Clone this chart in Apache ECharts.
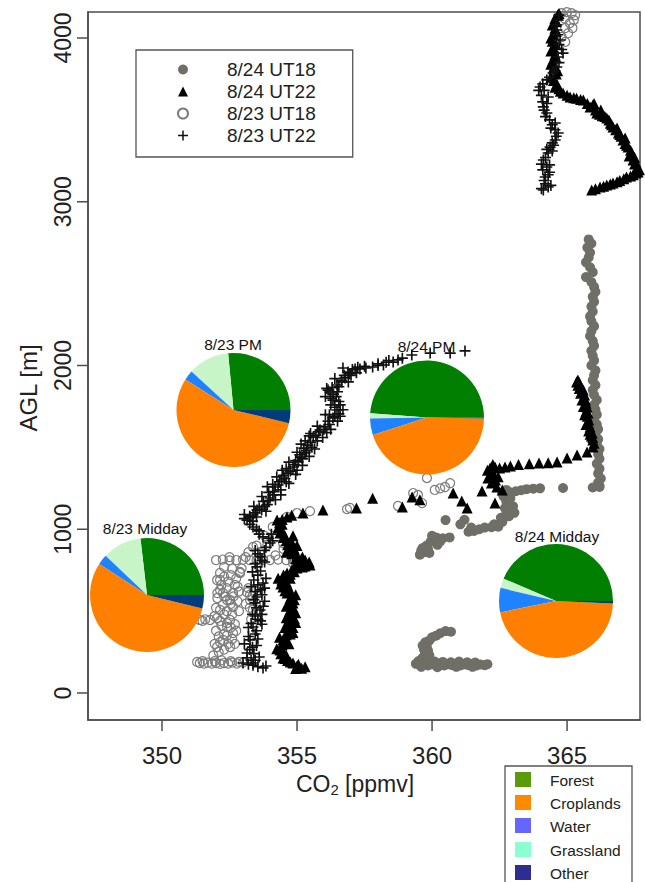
<!DOCTYPE html>
<html>
<head>
<meta charset="utf-8">
<script src="https://cdn.jsdelivr.net/npm/echarts@6/dist/echarts.min.js"></script>
<style>
html,body{margin:0;padding:0;background:#fff;}
#chart{width:645px;height:882px;}
</style>
</head>
<body>
<div id="chart"></div>
<script>
// ---------------- DATA ----------------
const xTicks = [350, 355, 360, 365];
const yTicks = [0, 1000, 2000, 3000, 4000];
const seriesNames = ['8/24 UT18', '8/24 UT22', '8/23 UT18', '8/23 UT22'];

// 8/24 UT18 (filled grey circles) [CO2 ppmv, AGL m]
const aug24ut18 = [
[359.40,178],[359.55,170],[359.70,182],[359.85,168],[360.00,176],[360.15,170],[360.30,180],[360.45,168],[360.60,175],[360.75,170],[360.90,178],[361.05,168],[361.20,175],[361.35,170],[361.50,178],[361.65,168],[361.80,174],[361.95,170],[362.05,176],
[359.50,195],[359.75,200],[360.10,192],[360.40,190],[360.70,188],[361.00,192],[361.30,188],[361.60,186],[359.60,160],[360.20,158],[360.90,160],[361.50,160],
[359.65,215],[359.90,230],[359.75,240],[359.85,260],[359.70,265],[359.80,285],[359.65,290],[359.75,310],[359.90,320],[360.00,340],[360.15,350],[360.30,365],[360.50,378],[360.70,374],
[359.55,845],[359.70,860],[359.90,855],[359.65,885],[359.80,900],[359.95,925],[360.05,940],[360.20,905],[360.15,950],[360.40,945],[360.65,950],[360.50,1056],[361.20,1058],[361.35,985],[361.55,990],[361.75,1000],[361.95,1010],[362.20,1012],[362.45,1015],[362.60,1045],[362.70,1075],[362.75,1095],[362.95,1118],[363.05,1100],[362.85,1145],[362.75,1170],[362.65,1200],[362.60,1220],[362.85,1228],[363.10,1232],[363.50,1245],[364.00,1250],[364.85,1252],[365.95,1255],[366.20,1258],
[359.60,870],[359.85,880],[360.30,925],[360.00,960],[361.05,1030],[361.45,1010],[362.30,1030],[362.55,1070],[362.85,1080],[363.00,1140],[362.70,1130],[362.90,1190],[362.75,1240],[363.30,1238],[363.75,1248],
[365.80,2770],[365.90,2745],[365.75,2720],[365.85,2690],[365.80,2660],[365.70,2630],[365.85,2600],[365.95,2570],[365.70,2540],[365.90,2510],[366.00,2480],[366.05,2450],[365.95,2420],[366.00,2390],[365.90,2360],[365.95,2330],[365.85,2300],[365.90,2270],[366.00,2240],[365.90,2210],[365.85,2180],[365.95,2150],[366.00,2120],[365.90,2090],[365.95,2060],[366.00,2030],[365.90,2000],[366.05,1970],[366.00,1940],[365.95,1910],[366.05,1880],[365.95,1850],[366.00,1820],[366.10,1790],[366.00,1760],[366.05,1730],[366.10,1700],[366.00,1670],[366.10,1640],[366.15,1610],[366.05,1580],[366.15,1550],[366.10,1520],[366.20,1490],[366.15,1460],[366.20,1430],[366.10,1400],[366.20,1370],[366.15,1340],[366.25,1310],[366.15,1285],[366.20,1265]
];

// 8/24 UT22 (black triangles)
const aug24ut22 = [
[355.17,151],[355.00,165],[354.85,183],[354.65,198],[354.48,214],[354.40,240],[354.37,263],[354.45,295],[354.48,324],[354.60,355],[354.67,385],[354.75,415],[354.80,446],[354.78,475],[354.74,507],[354.85,550],[354.75,580],[354.63,611],[354.48,647],[354.44,690],[354.55,712],[354.63,733],[354.80,750],[355.00,763],[355.48,782],[355.30,812],[355.10,800],[355.00,840],[354.85,870],[354.74,892],[354.60,930],[354.85,960],[354.37,977],[354.30,1010],[354.26,1056],[354.63,1075],[355.22,1099],[355.96,1118],
[355.30,160],[354.95,150],[354.60,230],[354.25,270],[354.70,300],[354.35,340],[354.85,370],[354.55,400],[354.95,430],[354.60,460],[354.95,490],[354.60,530],[354.95,600],[354.65,660],[354.30,700],[354.75,700],[355.20,770],[354.95,790],[355.20,830],[354.60,860],[355.00,900],[354.50,950],[354.45,1030],
[355.05,175],[354.75,190],[354.55,210],[354.50,250],[354.40,280],[354.60,310],[354.55,340],[354.75,360],[354.70,395],[354.85,400],[354.65,430],[354.90,455],[354.70,490],[354.85,520],[354.70,540],[354.90,570],[354.80,595],[354.55,625],[354.70,640],[354.40,665],[354.60,680],[354.50,720],[354.75,725],[354.90,740],[355.30,775],[355.45,800],[355.15,815],[354.95,820],[354.80,850],[354.90,880],[354.65,905],[354.80,920],[354.55,960],[354.45,990],[354.35,1040],[354.45,1060],[354.80,1085],
[357.20,1130],[357.80,1190],[358.90,1136],[359.26,1197],[359.55,1180],[360.78,1221],[361.10,1172],[361.30,1130],[361.85,1234],[362.33,1160],
[362.60,1240],[362.40,1258],[362.20,1282],[362.07,1313],[362.26,1343],[362.15,1374],[362.33,1380],[362.50,1374],[362.90,1386],[363.96,1404],
[362.35,1300],[362.15,1330],[362.45,1320],[362.05,1360],[362.25,1395],[362.70,1380],[363.20,1395],[363.60,1400],
[364.30,1406],[364.63,1411],[365.00,1435],[365.37,1453],[365.74,1472],[365.96,1502],
[366.00,1525],[365.95,1545],[365.90,1570],[365.93,1588],[365.85,1610],[365.85,1625],[365.80,1645],[365.80,1667],[365.75,1690],[365.78,1710],[365.74,1747],[365.70,1770],[365.68,1789],[365.65,1820],[365.60,1850],[365.50,1875],[365.45,1895],[365.40,1911],
[365.95,1560],[365.85,1580],[365.80,1600],[365.70,1640],[365.65,1700],[365.70,1720],[365.60,1750],[365.55,1790],[365.50,1830],[365.45,1860],[365.40,1880],[365.35,1900],
[365.91,3072],[366.22,3090],[366.47,3102],[366.70,3114],[366.95,3130],[367.20,3151],[367.45,3165],[367.63,3182],[367.60,3212],[367.44,3255],[367.40,3298],[367.26,3334],[367.07,3377],[366.90,3420],[366.70,3457],[366.47,3511],[366.30,3525],[366.10,3542],[365.85,3579],[365.60,3621],[365.35,3632],[365.11,3640],[364.85,3664],[364.70,3690],[364.55,3700],[364.50,3740],[364.60,3780],[364.50,3820],[364.45,3860],[364.55,3900],[364.50,3940],[364.45,3980],[364.50,4020],[364.55,4060],[364.60,4100],[364.65,4140],
[367.50,3230],[367.30,3280],[367.15,3355],[367.00,3400],[366.80,3440],[366.60,3480],[366.25,3560],[366.00,3600],
[366.05,3080],[366.35,3095],[366.60,3108],[366.85,3122],[367.10,3140],[367.35,3158],[367.55,3175],[367.68,3195],[367.55,3240],[367.50,3270],[367.35,3315],[367.20,3345],[367.15,3390],[366.95,3410],[366.85,3450],[366.65,3470],[366.55,3500],[366.40,3520],[366.20,3535],[366.05,3560],[365.95,3590],[365.75,3600],[365.50,3625],[365.25,3635],[365.00,3650],[364.75,3675],[364.62,3720],[364.40,3760],[364.65,3800],[364.40,3840],[364.60,3880],[364.40,3920],[364.60,3960],[364.40,4000],[364.60,4040],[364.45,4080],[364.55,4120],[364.70,4150]
];

// 8/23 UT18 (open grey circles)
const aug23ut18 = [
[364.80,4152],[364.99,4158],[365.17,4152],[365.30,4140],[365.10,4091],[364.93,4061],[365.20,4061],[365.04,4030],[364.80,4006],[364.93,3976],[365.25,4110],[364.90,4120],
[351.40,183],[351.55,180],[351.70,185],[351.85,180],[352.00,183],[352.15,178],[352.30,183],[352.45,180],[352.60,185],[352.78,180],
[352.04,281],[352.26,324],[352.63,366],[352.41,427],[351.78,446],[352.52,446],[351.40,446],[351.60,450],[352.63,525],[352.41,568],[352.15,629],[352.63,611],[352.04,690],[352.15,733],[352.89,733],[352.15,507],[352.04,458],[352.41,403],[353.26,568],[353.37,507],[352.52,281],[352.26,611],[352.52,568],[352.15,690],[352.89,739],[353.26,600],[352.30,360],[352.00,380],[352.70,300],[353.30,450],[353.20,640],[352.80,650],
[351.30,190],[351.50,195],[351.95,195],[352.20,200],[352.55,195],[352.85,190],[353.00,185],[351.90,230],[352.10,250],[352.30,265],[351.95,300],[352.15,310],[352.45,300],[352.60,330],[352.10,345],[352.40,350],[352.75,380],[352.55,400],[352.20,410],[352.70,420],[352.15,440],[351.50,440],[351.95,470],[352.30,480],[352.60,480],[352.85,500],[352.40,500],[352.00,520],[352.25,540],[352.55,545],[352.80,560],[352.05,580],[352.30,590],[352.65,590],[352.85,620],[352.05,610],[352.40,640],[352.70,660],[352.20,660],[352.45,680],[352.75,700],[352.30,710],[352.55,720],[352.95,760],[352.60,760],[352.30,770],[353.10,545],[353.25,520],[353.35,590],[353.15,615],[353.40,625],
[352.00,812],[352.25,815],[352.50,810],[352.75,812],[353.00,815],[353.25,812],[353.50,810],[353.75,815],[354.00,812],[354.30,815],[354.60,812],[354.85,815],
[352.50,830],[353.10,830],[353.20,860],[353.60,860],[354.20,840],[354.50,880],[354.20,950],[353.80,960],
[353.37,892],[353.50,900],[353.90,904],[354.10,1014],[354.37,977],[354.48,916],[354.74,855],[354.85,794],[354.63,1075],[355.00,1099],[355.48,1111],[356.85,1123],[356.96,1130],[358.74,1142],[359.30,1221],[359.48,1209],[359.63,1160],[359.81,1313],[360.10,1240],[360.48,1258],[360.67,1282],[360.30,1250]
];

// 8/23 UT22 (black plus signs)
const aug23ut22 = [
[353.74,153],[353.37,170],[353.00,183],[353.37,183],[353.15,244],[353.35,280],[353.26,324],[353.45,360],[353.37,403],[353.55,450],[353.63,507],[353.45,550],[353.52,586],[353.65,630],[353.74,672],[353.55,720],[353.52,770],[353.63,831],[353.80,870],[354.00,916],[353.74,953],[353.37,1014],[353.15,1056],[353.52,1118],
[353.30,200],[353.60,220],[353.05,300],[353.55,330],[353.20,400],[353.70,420],[353.35,480],[353.80,560],[353.30,650],[353.85,700],[353.35,740],[353.80,800],[353.45,870],[354.05,970],[353.60,990],[353.25,1080],
[353.55,160],[353.20,175],[353.85,165],[353.45,200],[353.15,215],[353.40,240],[353.25,265],[353.50,290],[353.20,345],[353.50,380],[353.30,425],[353.65,440],[353.45,470],[353.70,480],[353.50,520],[353.75,530],[353.40,570],[353.70,600],[353.45,620],[353.55,660],[353.80,640],[353.40,690],[353.65,745],[353.45,790],[353.70,810],[353.55,850],[353.85,890],[354.10,930],[353.95,945],[353.60,970],[353.50,1000],[353.25,1030],[353.35,1050],[353.05,1065],
[353.37,1087],[353.69,1118],[354.00,1191],[354.19,1258],[354.43,1301],[354.67,1343],[354.85,1380],[355.04,1411],[355.30,1466],[355.40,1514],[355.60,1563],[355.85,1606],[356.04,1625],[356.33,1680],[356.48,1728],[356.33,1789],[356.22,1838],[356.48,1881],[356.78,1924],[356.89,1960],[357.15,1979],[357.33,1979],[357.80,1991],[358.20,2003],[358.56,2021],[358.74,2034],[359.25,2064],[359.93,2076],[360.67,2076],[361.22,2089],
[353.90,1150],[354.40,1240],[354.60,1290],[355.00,1360],[355.20,1430],[355.55,1500],[355.75,1540],[356.10,1590],[356.50,1660],[356.20,1700],[356.60,1760],[356.45,1810],[356.10,1860],[356.65,1900],[357.00,1940],[357.50,1995],[358.00,2000],[358.40,2030],
[353.25,1070],[353.45,1100],[353.60,1130],[353.80,1140],[353.75,1170],[353.95,1175],[354.10,1210],[353.95,1225],[354.15,1230],[354.30,1270],[354.10,1275],[354.35,1290],[354.55,1310],[354.50,1330],[354.75,1355],[354.60,1370],[354.90,1395],[354.95,1420],[355.15,1440],[355.10,1455],[355.35,1480],[355.25,1495],[355.50,1530],[355.30,1540],[355.70,1575],[355.50,1585],[355.80,1595],[356.00,1610],[356.20,1640],[356.15,1660],[356.40,1690],[356.55,1705],[356.40,1745],[356.55,1780],[356.25,1800],[356.35,1825],[356.15,1850],[356.30,1865],[356.55,1870],[356.65,1910],[356.75,1940],[356.95,1950],[357.05,1975],[357.25,1990],[357.55,1985],[358.00,2010],[358.30,2020],[358.90,2045],
[353.05,1090],[353.50,1075],[353.40,1140],[353.85,1110],[353.70,1200],[354.20,1180],[353.90,1260],[354.40,1210],[354.25,1320],[354.70,1280],[354.45,1360],[354.95,1335],[354.70,1410],[355.20,1390],[355.00,1470],[355.45,1445],[355.15,1520],[355.65,1490],[355.45,1570],[355.95,1560],[355.75,1630],[356.25,1610],[356.05,1700],[356.60,1690],[356.25,1760],[356.70,1730],[356.05,1810],[356.50,1840],[356.40,1920],[356.90,1900],[356.70,1985],[357.20,1955],
[364.12,3072],[364.30,3090],[364.19,3151],[364.25,3212],[364.12,3255],[364.30,3298],[364.37,3334],[364.56,3377],[364.67,3420],[364.56,3481],[364.25,3542],[364.12,3579],[364.30,3640],[364.00,3701],[364.25,3744],[364.48,3786],[364.62,3823],[364.67,3884],[364.85,3908],[364.74,3988],[364.62,4049],[364.67,4110],
[364.20,3110],[364.35,3180],[364.05,3230],[364.45,3360],[364.40,3450],[364.10,3610],[364.15,3680],
[364.05,3080],[364.40,3100],[364.15,3130],[364.30,3165],[364.10,3195],[364.35,3225],[364.20,3270],[364.45,3310],[364.25,3320],[364.50,3345],[364.60,3400],[364.55,3440],[364.45,3470],[364.35,3500],[364.20,3520],[364.15,3560],[364.25,3600],[364.05,3650],[363.95,3680],[364.10,3720],[364.35,3760],[364.55,3800],[364.70,3850],[364.80,3930],[364.70,3960],[364.65,4020],[364.60,4080],[364.70,4140]
];

// Land-cover pies (percent)
const landCovers = ['Forest', 'Croplands', 'Water', 'Grassland', 'Other'];
const pieTitles = ['8/23 Midday', '8/23 PM', '8/24 PM', '8/24 Midday'];
const pieForest    = [26.8, 26.5, 48.8, 43.6];
const pieGrassland = [11.1, 11.7, 1.5, 2.7];
const pieWater     = [2.9, 2.8, 4.7, 6.9];
const pieCroplands = [55.3, 55.3, 44.7, 46.1];
const pieOther     = [3.8, 3.7, 0.3, 0.7];

// ---------------- STYLE / LAYOUT ----------------
const FONT = 'Liberation Sans, Arial, Helvetica, sans-serif';
const pieColors = {Forest:'#007f00', Grassland:'#c8f5c8', Water:'#1f82ff', Croplands:'#ff8000', Other:'#003b7c'};
const legendColors = {Forest:'#5b9a08', Croplands:'#ff8a00', Water:'#6666ff', Grassland:'#8cffd2', Other:'#2d2d92'};
const pieCenters = [[147, 595], [233.5, 410], [427, 417.5], [556, 601]];
const pieTitlePos = [[145, 528], [233, 344], [426.5, 346], [557, 536]];
const PIE_R = 57;
const plusPath = 'path://M4.25,0H5.75V4.25H10V5.75H5.75V10H4.25V5.75H0V4.25H4.25Z';
const FRAME = '#4d4d4d';
const GRID = {left: 88, top: 12, width: 552, height: 708};
const X_MIN = 347.26, X_MAX = 367.70, Y_MIN = -164.9, Y_MAX = 4158.8;
const TICK_LEN = 11;

const chart = echarts.init(document.getElementById('chart'), null, {renderer: 'svg'});

const pieSeries = pieTitles.map((t, i) => ({
  type: 'pie', name: t, silent: true,
  center: pieCenters[i], radius: PIE_R,
  startAngle: 0, clockwise: false, z: 5,
  label: {show: false}, labelLine: {show: false},
  emphasis: {disabled: true},
  itemStyle: {borderWidth: 0},
  data: [
    {name: 'Forest', value: pieForest[i], itemStyle: {color: pieColors.Forest}},
    {name: 'Grassland', value: pieGrassland[i], itemStyle: {color: pieColors.Grassland}},
    {name: 'Water', value: pieWater[i], itemStyle: {color: pieColors.Water}},
    {name: 'Croplands', value: pieCroplands[i], itemStyle: {color: pieColors.Croplands}},
    {name: 'Other', value: pieOther[i], itemStyle: {color: pieColors.Other}}
  ]
}));

const graphics = [];
pieTitles.forEach((t, i) => {
  graphics.push({type: 'text', x: pieTitlePos[i][0], y: pieTitlePos[i][1], z: 10,
    style: {text: t, fill: '#111', font: '15.5px ' + FONT, textAlign: 'center', textVerticalAlign: 'middle'}});
});
// land cover legend
graphics.push({type: 'rect', shape: {x: 505, y: 766, width: 127, height: 140}, z: 10,
  style: {fill: '#fff', stroke: '#555', lineWidth: 1.3}});
const lcY = [779.5, 802.5, 825.5, 849.5, 872.5];
landCovers.forEach((n, i) => {
  graphics.push({type: 'rect', shape: {x: 515, y: lcY[i] - 7.5, width: 16, height: 15}, z: 11,
    style: {fill: legendColors[n]}});
  graphics.push({type: 'text', x: 550, y: lcY[i] + 1, z: 11,
    style: {text: n, fill: '#222', font: '15.5px ' + FONT, textAlign: 'left', textVerticalAlign: 'middle'}});
});
// outward (R-style) tick marks on the same linear scale as the axes
xTicks.forEach(v => {
  const px = GRID.left + (v - X_MIN) / (X_MAX - X_MIN) * GRID.width;
  graphics.push({type: 'rect', z: 20, shape: {x: px - 0.75, y: GRID.top + GRID.height, width: 1.5, height: TICK_LEN},
    style: {fill: FRAME}});
});
yTicks.forEach(v => {
  const py = GRID.top + (Y_MAX - v) / (Y_MAX - Y_MIN) * GRID.height;
  graphics.push({type: 'rect', z: 20, shape: {x: GRID.left - TICK_LEN, y: py - 0.75, width: TICK_LEN, height: 1.5},
    style: {fill: FRAME}});
});

const plainNum = v => String(v);

const option = {
  animation: false,
  backgroundColor: '#ffffff',
  textStyle: {fontFamily: FONT},
  grid: {left: GRID.left, top: GRID.top, width: GRID.width, height: GRID.height, show: true,
    borderColor: FRAME, borderWidth: 1.5, backgroundColor: 'transparent'},
  legend: {
    orient: 'vertical', left: 136, top: 50,
    padding: [10, 37, 12, 41], itemWidth: 10, itemHeight: 10, itemGap: 3,
    borderColor: '#555', borderWidth: 1.3, selectedMode: false,
    textStyle: {fontSize: 19, color: '#222', fontFamily: FONT, padding: [0, 0, 0, 34]},
    data: seriesNames
  },
  xAxis: {
    type: 'value', min: X_MIN, max: X_MAX,
    axisLine: {show: true, onZero: false, lineStyle: {color: FRAME, width: 1.5}}, splitLine: {show: false},
    axisTick: {show: false},
    axisLabel: {customValues: xTicks, fontSize: 24, color: '#222', margin: 23, fontFamily: FONT, formatter: plainNum},
    name: '{a|CO}{s|2}{a| [ppmv]}', nameLocation: 'middle', nameGap: 52,
    nameTextStyle: {padding: [0, 18, 0, 0], rich: {
      a: {fontSize: 23, color: '#222', fontFamily: FONT, lineHeight: 24, verticalAlign: 'top'},
      s: {fontSize: 15, color: '#222', fontFamily: FONT, lineHeight: 16, verticalAlign: 'top', padding: [10, 0, 0, 0]}
    }}
  },
  yAxis: {
    type: 'value', min: Y_MIN, max: Y_MAX,
    axisLine: {show: true, onZero: false, lineStyle: {color: FRAME, width: 1.5}}, splitLine: {show: false},
    axisTick: {show: false},
    axisLabel: {customValues: yTicks, fontSize: 23, color: '#222', margin: 14, rotate: 90, fontFamily: FONT, formatter: plainNum},
    name: 'AGL [m]', nameLocation: 'middle', nameGap: 48, nameRotate: 90,
    nameTextStyle: {fontSize: 24, color: '#222', fontFamily: FONT, padding: [0, 44, 0, 0]}
  },
  graphic: graphics,
  series: [
    {type: 'scatter', name: seriesNames[0], data: aug24ut18, symbol: 'circle', symbolSize: 10,
      itemStyle: {color: '#6f6f67', opacity: 1}, silent: true, z: 2},
    {type: 'scatter', name: seriesNames[2], data: aug23ut18, symbol: 'circle', symbolSize: 9,
      itemStyle: {color: 'rgba(255,255,255,0)', borderColor: '#7c7c7c', borderWidth: 1.2, opacity: 1}, silent: true, z: 2},
    {type: 'scatter', name: seriesNames[1], data: aug24ut22, symbol: 'triangle', symbolSize: 11,
      itemStyle: {color: '#000', opacity: 1}, silent: true, z: 3},
    {type: 'scatter', name: seriesNames[3], data: aug23ut22, symbol: plusPath, symbolSize: 11,
      itemStyle: {color: '#111', opacity: 1}, silent: true, z: 3}
  ].concat(pieSeries)
};
chart.setOption(option);
</script>
</body>
</html>
